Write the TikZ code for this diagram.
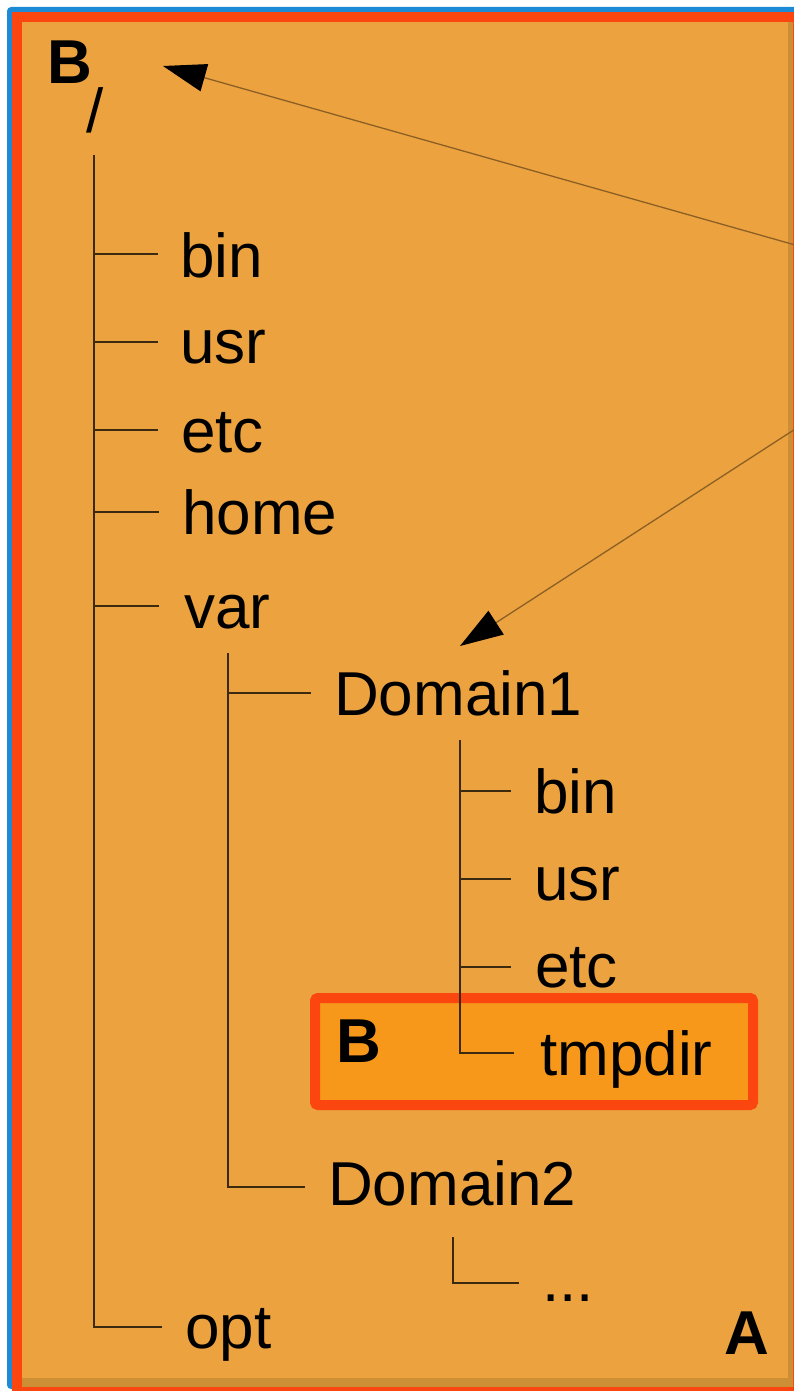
\documentclass[tikz,border=0pt]{standalone}
\usepackage{fontspec}
\setmainfont{Liberation Sans}
\usetikzlibrary{arrows.meta}
\definecolor{bgorange}{RGB}{235,162,63}
\definecolor{frred}{RGB}{252,70,16}
\definecolor{frblue}{RGB}{28,138,212}
\definecolor{shadowband}{RGB}{204,143,53}
\definecolor{boxorange}{RGB}{247,152,27}
\definecolor{treeline}{RGB}{60,42,16}
\definecolor{arrline}{RGB}{140,96,36}
\begin{document}
\begin{tikzpicture}[x=1pt,y=-1pt,
  lbl/.style={anchor=base west,inner sep=0pt,font=\fontsize{62}{70}\selectfont},
  blbl/.style={anchor=base west,inner sep=0pt,font=\fontsize{62}{70}\selectfont\bfseries},
  tree/.style={draw=treeline,line width=2pt},
  pointer/.style={draw=arrline,line width=1.3pt,-{Triangle[length=43pt,width=28pt,color=black]}}]
\useasboundingbox (0,0) rectangle (794,1391);
\clip (0,0) rectangle (794,1391);
% frame
\fill[white] (0,0) rectangle (794,1391);
\fill[frblue,rounded corners=4pt] (7,7) rectangle (830,1389);
\fill[frred] (12,12) rectangle (830,1420);
\fill[shadowband] (22,22) rectangle (793,1387);
\fill[bgorange] (22,22) rectangle (788,1378);
% highlighted box B
\node[draw=frred,fill=boxorange,line width=10pt,rounded corners=3pt,
  minimum width=438pt,minimum height=107pt,inner sep=0pt,anchor=north west] (boxB) at (310,993) {};
% labels
\node[blbl] (labB) at (47,84) {B};
\node[lbl] (root) at (86,133) {/};
\node[lbl] (bin) at (180,277) {bin};
\node[lbl] (usr) at (180,363) {usr};
\node[lbl] (etc) at (181,452) {etc};
\node[lbl] (home) at (182,534) {home};
\node[lbl] (var) at (184,628) {var};
\node[lbl] (opt) at (185,1348) {opt};
\node[lbl] (dom1) at (334,715) {Domain1};
\node[lbl] (dom2) at (328,1205) {Domain2};
\node[lbl] (dbin) at (534,813) {bin};
\node[lbl] (dusr) at (534,900) {usr};
\node[lbl] (detc) at (535,987) {etc};
\node[lbl] (dtmp) at (540,1075) {tmpdir};
\node[lbl] (dots) at (542,1301) {...};
\node[blbl] (boxBlab) at (336.5,1062) {B};
\node[blbl] (labA) at (724,1354) {A};
% tree coordinates
\coordinate (t0) at (93.5,155);
\coordinate (e-bin) at (158,254);
\coordinate (e-usr) at (158,342);
\coordinate (e-etc) at (158,430);
\coordinate (e-home) at (159,512);
\coordinate (e-var) at (159,606);
\coordinate (e-opt) at (162,1327);
\coordinate (t1) at (227.5,653);
\coordinate (e-dom1) at (311,693);
\coordinate (e-dom2) at (305,1187);
\coordinate (t2) at (460,740);
\coordinate (e-dbin) at (511,791);
\coordinate (e-dusr) at (511,879);
\coordinate (e-detc) at (511,967);
\coordinate (e-dtmp) at (514,1053);
\coordinate (t3) at (453,1237);
\coordinate (e-dots) at (519,1283);
% tree lines
\draw[tree] (t0) |- (e-opt);
\foreach \c in {bin,usr,etc,home,var} \draw[tree] (t0 |- e-\c) -- (e-\c);
\draw[tree] (t1) |- (e-dom2);
\draw[tree] (t1 |- e-dom1) -- (e-dom1);
\draw[tree] (t2) |- (e-dtmp);
\foreach \c in {dbin,dusr,detc} \draw[tree] (t2 |- e-\c) -- (e-\c);
\draw[tree] (t3) |- (e-dots);
% pointers
\coordinate (src) at (993,301);
\coordinate (tip1) at (163,66);
\coordinate (tip2) at (460,646);
\draw[pointer] (src) -- (tip1);
\draw[pointer] (src) -- (tip2);
\end{tikzpicture}
\end{document}
